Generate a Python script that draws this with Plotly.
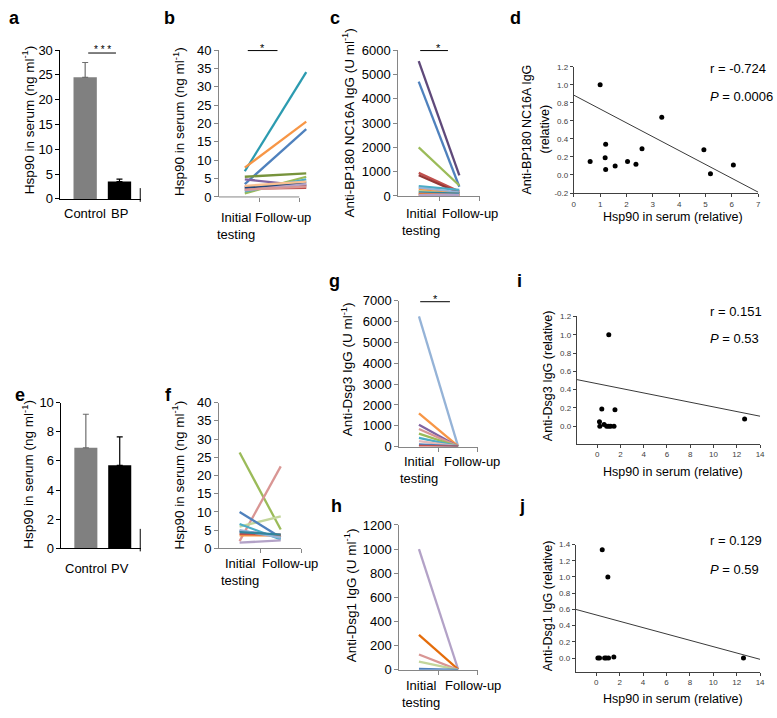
import plotly.graph_objects as go

W, H = 777, 718
FONT = "Arial, 'Liberation Sans', sans-serif"

# ---------------- data ----------------
a_groups = ["Control", "BP"]
a_means = [24.5, 3.5]
a_errors = [3.0, 0.5]

e_groups = ["Control", "PV"]
e_means = [6.9, 5.7]
e_errors = [2.3, 1.95]

time_points = ["Initial<br>testing", "Follow-up"]

b_initial = [7.0, 8.0, 3.5, 5.5, 4.8, 1.0, 1.5, 2.2, 2.8, 2.5, 1.8, 3.0, 2.0]
b_follow = [34.0, 20.5, 18.5, 6.4, 3.0, 5.5, 4.8, 2.5, 3.2, 4.0, 3.5, 4.2, 2.8]

c_initial = [5550, 4700, 2000, 950, 850, 400, 330, 250, 200, 150, 100, 60, 30]
c_follow = [850, 380, 430, 180, 120, 250, 150, 80, 50, 100, 30, 20, 40]

f_initial = [26.3, 2.0, 6.0, 10.0, 6.7, 4.8, 3.6, 1.6, 4.0, 5.0, 4.5]
f_follow = [5.2, 22.5, 8.8, 3.0, 2.5, 3.5, 3.5, 2.2, 3.8, 3.0, 3.8]

g_initial = [6250, 1600, 1050, 845, 625, 420, 265, 110, 30]
g_follow = [10, 20, 10, 15, 5, 10, 5, 5, 0]

h_initial = [1000, 290, 127, 68, 8]
h_follow = [5, 5, 0, 0, 0]

d_hsp90 = [0.62, 1.0, 1.19, 1.21, 1.21, 1.57, 2.04, 2.36, 2.59, 3.34, 4.94, 5.19, 6.06]
d_bp180 = [0.15, 1.0, 0.19, 0.34, 0.06, 0.10, 0.15, 0.12, 0.29, 0.64, 0.28, 0.015, 0.11]
d_fit_x = [0, 7]
d_fit_y = [0.885, -0.19]
d_stats = ["r = -0.724", "<i>P</i> = 0.0006"]
d_yticks = [-0.2, 0.0, 0.2, 0.4, 0.6, 0.8, 1.0, 1.2]
d_yticklabels = ["-0.2", "0.0", "0.2", "0.4", "0.6", "0.8", "1.0", "1.2"]

i_hsp90 = [1.0, 0.4, 1.53, 0.2, 0.23, 0.6, 0.82, 1.0, 1.16, 1.45, 12.67]
i_dsg3 = [1.0, 0.19, 0.18, 0.05, 0.0, 0.02, 0.0, 0.0, 0.0, 0.0, 0.08]
i_fit_x = [-1.75, 14]
i_fit_y = [0.51, 0.11]
i_stats = ["r = 0.151", "<i>P</i> = 0.53"]

j_hsp90 = [0.51, 0.99, 0.14, 0.28, 0.71, 0.85, 1.05, 1.5, 12.58]
j_dsg1 = [1.335, 1.0, 0.0, 0.0, 0.0, 0.0, 0.0, 0.012, 0.0]
j_fit_x = [-1.75, 14]
j_fit_y = [0.60, -0.016]
j_stats = ["r = 0.129", "<i>P</i> = 0.59"]

# ---------------- styles ----------------
b_colors = ['#2C9BB0', '#F79646', '#4F81BD', '#77933C', '#8064A2', '#9BBB59', '#4BACC6',
            '#C0504D', '#953735', '#1F497D', '#B3A2C7', '#FAC090', '#D99694']
c_colors = ['#5F497A', '#4F81BD', '#9BBB59', '#C0504D', '#953735', '#4BACC6', '#95B3D7',
            '#F79646', '#C3D69B', '#31859C', '#D99694', '#E46C0A', '#B3A2C7']
f_colors = ['#9BBB59', '#D99694', '#C3D69B', '#4F81BD', '#4BACC6', '#8064A2', '#F79646',
            '#B3A2C7', '#C0504D', '#95B3D7', '#31859C']
g_colors = ['#95B3D7', '#F79646', '#8064A2', '#D99694', '#9BBB59', '#4BACC6', '#E6B9B8',
            '#4F81BD', '#C0504D']
h_colors = ['#B3A2C7', '#E46C0A', '#D99694', '#C3D69B', '#4F81BD']
GRAY = '#868686'

fig = go.Figure()
axes = {}
annotations = []
shapes = []


def px(x):
    return x / W


def py(y):
    return 1 - y / H


def aname(n, k):
    return f"{k}axis" if n == 1 else f"{k}axis{n}"


def aref(n, k):
    return k if n == 1 else f"{k}{n}"


def set_axes(n, xpx, ypx, xcfg, ycfg):
    axes[aname(n, 'x')] = dict(domain=[px(xpx[0]), px(xpx[1])], anchor=aref(n, 'y'),
                               showgrid=False, zeroline=False, fixedrange=True, **xcfg)
    axes[aname(n, 'y')] = dict(domain=[py(ypx[1]), py(ypx[0])], anchor=aref(n, 'x'),
                               showgrid=False, zeroline=False, fixedrange=True, **ycfg)


def text(x, y, s, size=13, xanchor='center', yanchor='middle', angle=0, bold=False,
         color='black', xref='paper'):
    annotations.append(dict(x=px(x) if xref == 'paper' else x, y=py(y), xref=xref, yref='paper',
                            text=s, showarrow=False, xanchor=xanchor, yanchor=yanchor,
                            textangle=angle,
                            font=dict(size=size, color=color, family=FONT,
                                      weight='bold' if bold else 'normal')))


def hline(x0, x1, y, color='black', width=1):
    shapes.append(dict(type='line', xref='paper', yref='paper', x0=px(x0), x1=px(x1),
                       y0=py(y), y1=py(y), line=dict(color=color, width=width)))


def vline(x, y0, y1, color='black', width=1):
    shapes.append(dict(type='line', xref='paper', yref='paper', x0=px(x), x1=px(x),
                       y0=py(y0), y1=py(y1), line=dict(color=color, width=width)))


def yline_axis(rng, dtick, color, size=13):
    return dict(range=rng, dtick=dtick, showline=True, linecolor=color, linewidth=1,
                ticks='outside', ticklen=4, tickcolor=color,
                tickfont=dict(size=size, color='black', family=FONT))


# ---------------- bar panels (a, e) ----------------
def bar_panel(n, groups, means, errors, xpx, ypx, yrng, dtick, label_y):
    set_axes(n, xpx, ypx,
             dict(range=[-0.72, 1.62], showticklabels=False, ticks='',
                  showline=True, linecolor='black', linewidth=1),
             yline_axis(yrng, dtick, 'black'))
    for k, (col, ecol) in enumerate([('#808080', '#6e6e6e'), ('#000000', '#000000')]):
        fig.add_trace(go.Bar(x=[k], y=[means[k]], width=0.68,
                             marker=dict(color=col, line=dict(width=0)),
                             error_y=dict(type='data', symmetric=False, array=[errors[k]],
                                          arrayminus=[0], color=ecol, thickness=1.2, width=3),
                             xaxis=aref(n, 'x'), yaxis=aref(n, 'y')))
        text(k, label_y, groups[k], size=13, xref=aref(n, 'x'))


bar_panel(1, a_groups, a_means, a_errors, (59, 140), (44, 196), [0, 30], 5, 211)
bar_panel(5, e_groups, e_means, e_errors, (60, 140), (404, 553), [0, 10], 2, 573)
vline(139.5, 185, 199)
vline(139.5, 533, 556)

# ---------------- paired line panels ----------------
def line_panel(n, init, foll, colors, xpx, ypx, yrng, dtick, xrng, tickvals, showline=True):
    set_axes(n, xpx, ypx,
             dict(range=xrng, tickvals=tickvals, ticks='outside', ticklen=4, tickcolor=GRAY,
                  showticklabels=False, showline=showline, linecolor=GRAY, linewidth=1),
             yline_axis(yrng, dtick, GRAY))
    for i0, f0, col in zip(init, foll, colors):
        fig.add_trace(go.Scatter(x=[0, 1], y=[i0, f0], mode='lines',
                                 line=dict(color=col, width=2.3),
                                 xaxis=aref(n, 'x'), yaxis=aref(n, 'y')))


# b: lines drawn from 245px to 307px, axis 219..300
b_scale = 62.0
b_rng = [(219 - 245) / b_scale, (310 - 245) / b_scale]
line_panel(2, b_initial, b_follow, b_colors, (219, 310), (44, 194), [0, 40], 5, b_rng,
           [(260 - 245) / b_scale, (300 - 245) / b_scale], showline=False)
hline(219, 300, 194, GRAY)

line_panel(3, c_initial, c_follow, c_colors, (400, 482), (44, 193), [0, 6000], 1000,
           [-0.5, 1.5], [0.5, 1.5])
line_panel(6, f_initial, f_follow, f_colors, (219, 302), (404, 553), [0, 40], 5,
           [-0.5, 1.5], [0.5, 1.5])
line_panel(7, g_initial, g_follow, g_colors, (401, 480), (300, 449), [0, 7000], 1000,
           [-0.5, 1.5], [0.5, 1.5])
line_panel(8, h_initial, h_follow, h_colors, (401, 480), (529, 677), [0, 1200], 200,
           [-0.5, 1.5], [0.5, 1.5])

# category labels
for (xi, xf, ytop) in [(236, 284, 205), (423, 472, 201), (240, 291, 559), (421, 474, 455),
                       (423, 475, 683)]:
    text(xi, ytop, time_points[0], size=13, yanchor='top')
    text(xf, ytop, time_points[1], size=13, yanchor='top')

# ---------------- scatter panels ----------------
def small_axis(rng, tickvals, ticktext=None):
    d = dict(range=rng, tickvals=tickvals, showline=True, linecolor='#404040', linewidth=1,
             ticks='outside', ticklen=3, tickcolor='#404040',
             tickfont=dict(size=8, color='#404040', family=FONT))
    if ticktext is not None:
        d['ticktext'] = ticktext
    return d


def scatter_panel(n, xs, ys, fx, fy, xpx, ypx, xax, yax):
    set_axes(n, xpx, ypx, xax, yax)
    fig.add_trace(go.Scatter(x=fx, y=fy, mode='lines', line=dict(color='#3a3a3a', width=1),
                             xaxis=aref(n, 'x'), yaxis=aref(n, 'y')))
    fig.add_trace(go.Scatter(x=xs, y=ys, mode='markers', marker=dict(color='black', size=5),
                             cliponaxis=False, xaxis=aref(n, 'x'), yaxis=aref(n, 'y')))


scatter_panel(4, d_hsp90, d_bp180, d_fit_x, d_fit_y, (577, 763), (61, 190),
              small_axis([0, 7], list(range(0, 8))),
              small_axis([-0.2, 1.2], d_yticks, d_yticklabels))
scatter_panel(9, i_hsp90, i_dsg3, i_fit_x, i_fit_y, (580, 765), (316, 446),
              small_axis([-1.75, 14], list(range(0, 15, 2))),
              small_axis([-0.19, 1.2], [0, 0.2, 0.4, 0.6, 0.8, 1.0, 1.2],
                         ["0.0", "0.2", "0.4", "0.6", "0.8", "1.0", "1.2"]))
scatter_panel(10, j_hsp90, j_dsg1, j_fit_x, j_fit_y, (579, 765), (549, 679),
              small_axis([-1.75, 14], list(range(0, 15, 2))),
              small_axis([-0.17, 1.4], [0, 0.2, 0.4, 0.6, 0.8, 1.0, 1.2, 1.4],
                         ["0.0", "0.2", "0.4", "0.6", "0.8", "1.0", "1.2", "1.4"]))

for stats, (y1, y2) in [(d_stats, (63, 91)), (i_stats, (311, 339)), (j_stats, (545, 574))]:
    text(712, y1, stats[0], size=13, xanchor='left')
    text(712, y2, stats[1], size=13, xanchor='left')

# ---------------- titles ----------------
hsp_ng = "Hsp90 in serum (ng ml<sup>-1</sup>)"
text(26, 115, hsp_ng, size=13.5, angle=-90)
text(178, 117, hsp_ng, size=13.5, angle=-90)
text(26, 477, hsp_ng, size=13.5, angle=-90)
text(178, 478, hsp_ng, size=13.5, angle=-90)
text(349, 118, "Anti-BP180 NC16A IgG (U ml<sup>-1</sup>)", size=13.5, angle=-90)
text(348, 370, "Anti-Dsg3 IgG (U ml<sup>-1</sup>)", size=13.5, angle=-90)
text(352, 601, "Anti-Dsg1 IgG (U ml<sup>-1</sup>)", size=13.5, angle=-90)
text(530, 125, "Anti-BP180 NC16A IgG", size=12.5, angle=-90)
text(548, 125, "(relative)", size=12.5, angle=-90)
text(551, 377, "Anti-Dsg3 IgG (relative)", size=12.5, angle=-90)
text(551, 612, "Anti-Dsg1 IgG (relative)", size=12.5, angle=-90)
for yy in (214, 475, 707):
    text(677, yy, "Hsp90 in serum (relative)", size=12.5)

# panel letters
for letter, (lx, ly) in {"a": (13, 11), "b": (169, 11), "c": (336, 11), "d": (518, 11),
                         "e": (18, 396), "f": (168, 396), "g": (336, 280), "h": (338, 510),
                         "i": (522, 280), "j": (525, 510)}.items():
    text(lx, ly, letter, size=18, bold=True)

# significance brackets
hline(87, 115, 47)
text(101, 43, "* * *", size=10)
hline(248, 278, 44.5)
text(263, 42, "*", size=11)
hline(422, 450, 44.5)
text(440, 42, "*", size=11)
hline(422, 452, 301)
text(437, 298, "*", size=11)

fig.update_layout(width=W, height=H, margin=dict(l=0, r=0, t=0, b=0),
                  paper_bgcolor='white', plot_bgcolor='white', showlegend=False,
                  font=dict(family=FONT, color='black'),
                  annotations=annotations, shapes=shapes, **axes)
fig.write_html("out.html", config={"displayModeBar": False},
               post_script="document.body.style.margin='0';document.body.style.overflow='hidden';")
